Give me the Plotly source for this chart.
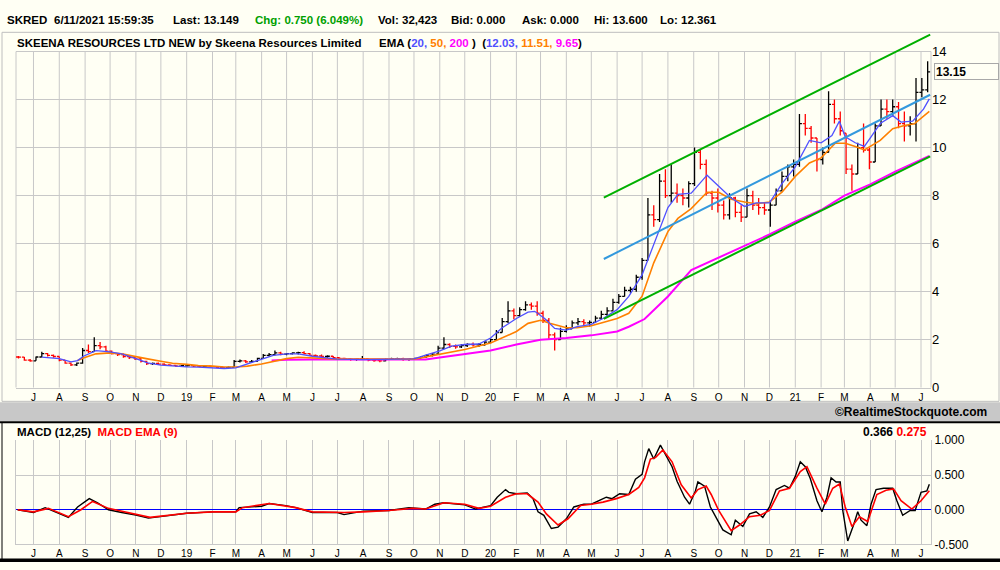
import pandas as pd
import plotly.graph_objects as go

# ---- weekly price bars (one bar per week, Jun 2018 - Jun 2021)
opens = [
    1.28, 1.27, 1.15,
    1.12, 1.28, 1.42, 1.35,
    1.30, 1.15, 1.02, 0.95, 1.02,
    1.55, 1.50, 1.75, 1.70,
    1.52, 1.42, 1.38, 1.30,
    1.25, 1.20, 1.10, 1.00, 1.01,
    0.98, 0.95, 0.93, 0.90,
    0.91, 0.92, 0.90, 0.88,
    0.90, 0.88, 0.85, 0.84,
    0.85, 1.10, 1.12, 1.08, 1.10,
    1.22, 1.35, 1.38, 1.45,
    1.40, 1.42, 1.45, 1.46, 1.42,
    1.35, 1.32, 1.30, 1.31,
    1.25, 1.22, 1.20, 1.18,
    1.19, 1.20, 1.15, 1.13, 1.12,
    1.18, 1.20, 1.21, 1.18,
    1.20, 1.22, 1.28, 1.35,
    1.40, 1.65, 1.80, 1.72, 1.70,
    1.75, 1.80, 1.78, 1.79,
    1.90, 2.00, 2.30, 2.75, 3.20,
    3.00, 3.25, 3.45, 3.40,
    3.10, 2.80, 2.20, 2.00,
    2.35, 2.45, 2.70, 2.75,
    2.70, 2.72, 2.90, 3.05, 3.20,
    3.55, 3.80, 4.05, 4.10,
    4.60, 5.30, 7.20, 7.00, 8.60,
    8.00, 8.10, 8.00, 7.90,
    8.50, 9.80, 9.30, 8.10,
    7.90, 7.60, 7.20, 7.90, 7.30,
    7.10, 8.00, 7.60, 7.50,
    7.40, 7.60, 8.20, 8.80,
    9.20, 9.30, 11.00, 10.80, 10.40,
    9.50, 9.80, 11.80, 11.20,
    10.60, 9.10, 8.90, 10.00,
    9.90, 9.40, 10.90, 11.60, 11.50,
    11.70, 11.00, 10.90, 11.00,
    12.30, 12.40,
]
highs = [
    1.32, 1.28, 1.20,
    1.30, 1.50, 1.45, 1.38,
    1.30, 1.15, 1.05, 1.05, 1.65,
    1.80, 2.10, 1.90, 1.75,
    1.55, 1.45, 1.42, 1.35,
    1.32, 1.25, 1.12, 1.05, 1.05,
    1.02, 0.98, 0.95, 0.95,
    0.95, 0.95, 0.93, 0.95,
    0.92, 0.90, 0.88, 0.88,
    1.15, 1.18, 1.15, 1.15, 1.25,
    1.40, 1.45, 1.55, 1.50,
    1.45, 1.48, 1.50, 1.52, 1.45,
    1.38, 1.38, 1.35, 1.32,
    1.28, 1.25, 1.24, 1.22,
    1.32, 1.22, 1.20, 1.20, 1.22,
    1.25, 1.25, 1.25, 1.22,
    1.25, 1.30, 1.38, 1.45,
    1.75, 2.10, 1.85, 1.80, 1.82,
    1.85, 1.88, 1.85, 1.95,
    2.05, 2.40, 2.90, 3.60, 3.30,
    3.35, 3.60, 3.55, 3.60,
    3.20, 2.90, 2.30, 2.50,
    2.60, 2.80, 2.90, 2.85,
    2.80, 3.00, 3.20, 3.35, 3.70,
    3.90, 4.20, 4.20, 4.70,
    5.40, 7.90, 7.60, 8.90, 9.10,
    9.30, 8.50, 8.30, 8.60,
    10.00, 9.90, 9.50, 8.20,
    8.30, 7.80, 8.10, 7.95, 7.60,
    8.30, 8.20, 7.90, 7.70,
    7.80, 8.30, 9.00, 9.30,
    9.50, 11.40, 11.40, 10.90, 10.40,
    10.00, 12.35, 12.00, 11.50,
    10.60, 9.30, 10.20, 11.00,
    10.00, 11.00, 12.00, 12.00, 12.00,
    11.90, 11.50, 11.30, 12.90,
    12.90, 13.60,
]
lows = [
    1.22, 1.12, 1.08,
    1.12, 1.28, 1.30, 1.25,
    1.10, 1.00, 0.90, 0.90, 1.00,
    1.45, 1.50, 1.60, 1.50,
    1.38, 1.32, 1.25, 1.20,
    1.15, 1.05, 0.95, 0.95, 0.95,
    0.92, 0.90, 0.86, 0.86,
    0.88, 0.86, 0.85, 0.85,
    0.84, 0.82, 0.80, 0.80,
    0.85, 1.05, 1.03, 1.05, 1.08,
    1.20, 1.30, 1.35, 1.35,
    1.35, 1.38, 1.38, 1.38, 1.32,
    1.28, 1.25, 1.25, 1.20,
    1.18, 1.15, 1.12, 1.12,
    1.15, 1.10, 1.08, 1.06, 1.10,
    1.15, 1.15, 1.12, 1.12,
    1.15, 1.20, 1.25, 1.30,
    1.40, 1.60, 1.65, 1.62, 1.65,
    1.70, 1.72, 1.70, 1.75,
    1.85, 2.00, 2.30, 2.70, 2.85,
    2.95, 3.20, 3.25, 3.00,
    2.70, 2.00, 1.55, 2.00,
    2.30, 2.45, 2.60, 2.60,
    2.55, 2.70, 2.85, 3.00, 3.20,
    3.50, 3.80, 3.95, 4.00,
    4.50, 5.30, 6.70, 6.90, 7.90,
    7.70, 7.70, 7.60, 7.50,
    8.40, 9.10, 8.00, 7.40,
    7.30, 7.00, 7.00, 7.10, 6.90,
    7.10, 7.40, 7.20, 7.20,
    6.70, 7.60, 8.20, 8.60,
    8.80, 9.20, 10.50, 10.20, 9.00,
    9.30, 9.80, 11.00, 10.50,
    8.90, 8.20, 8.90, 9.80,
    9.10, 9.40, 10.90, 11.20, 11.30,
    10.80, 10.25, 10.50, 10.25,
    12.10, 12.30,
]
closes = [
    1.27, 1.15, 1.12,
    1.28, 1.42, 1.35, 1.30,
    1.15, 1.02, 0.95, 1.02, 1.55,
    1.50, 1.75, 1.70, 1.52,
    1.42, 1.38, 1.30, 1.25,
    1.20, 1.10, 1.00, 1.01, 0.98,
    0.95, 0.93, 0.90, 0.92,
    0.92, 0.90, 0.88, 0.90,
    0.88, 0.85, 0.84, 0.85,
    1.10, 1.12, 1.08, 1.10, 1.22,
    1.35, 1.38, 1.45, 1.40,
    1.42, 1.45, 1.46, 1.42, 1.35,
    1.32, 1.30, 1.31, 1.25,
    1.22, 1.20, 1.18, 1.19,
    1.20, 1.15, 1.13, 1.12, 1.18,
    1.20, 1.21, 1.18, 1.20,
    1.22, 1.28, 1.35, 1.40,
    1.65, 1.80, 1.72, 1.70, 1.75,
    1.80, 1.78, 1.79, 1.90,
    2.00, 2.30, 2.75, 3.20, 3.00,
    3.25, 3.45, 3.40, 3.10,
    2.80, 2.20, 2.00, 2.35,
    2.45, 2.70, 2.75, 2.70,
    2.72, 2.90, 3.05, 3.20, 3.55,
    3.80, 4.05, 4.10, 4.60,
    5.30, 7.20, 7.00, 8.60, 8.00,
    8.10, 8.00, 7.90, 8.50,
    9.80, 9.30, 8.10, 7.90,
    7.60, 7.20, 7.90, 7.30, 7.10,
    8.00, 7.60, 7.50, 7.40,
    7.60, 8.20, 8.80, 9.20,
    9.30, 11.00, 10.80, 10.40, 9.50,
    9.80, 11.80, 11.20, 10.70,
    9.10, 8.90, 10.00, 9.90,
    9.40, 10.90, 11.60, 11.50, 11.70,
    11.00, 10.90, 11.00, 12.30,
    12.40, 13.149,
]
# mid-week date of each bar
week_dates = pd.date_range("2018-06-13", periods=len(closes), freq="7D")

# ---- moving averages (read at irregular points)
ema20_dates = ["2018-07-11", "2018-08-01", "2018-08-15", "2018-08-23", "2018-08-30", "2018-09-14",
               "2018-10-01", "2018-10-15", "2018-11-01", "2018-11-15", "2018-12-01", "2018-12-15",
               "2019-01-01", "2019-01-15", "2019-02-01", "2019-02-15", "2019-03-01", "2019-03-15",
               "2019-04-01", "2019-04-15", "2019-05-01", "2019-05-15", "2019-06-01", "2019-06-15",
               "2019-07-01", "2019-08-01", "2019-09-01", "2019-10-01", "2019-10-15", "2019-11-01",
               "2019-11-15", "2019-12-01", "2019-12-18", "2020-01-01", "2020-01-15", "2020-02-01",
               "2020-02-15", "2020-02-23", "2020-03-06", "2020-03-18", "2020-04-01", "2020-04-14",
               "2020-05-01", "2020-05-15", "2020-06-01", "2020-06-15", "2020-07-01", "2020-07-15",
               "2020-08-01", "2020-08-13", "2020-08-29", "2020-09-17", "2020-10-01", "2020-10-16",
               "2020-11-01", "2020-11-15", "2020-12-01", "2020-12-16", "2021-01-01", "2021-01-18",
               "2021-02-01", "2021-02-14", "2021-02-23", "2021-03-02", "2021-03-14", "2021-03-25",
               "2021-04-02", "2021-04-13", "2021-04-28", "2021-05-08", "2021-05-22", "2021-06-04",
               "2021-06-11"]
ema20 = [1.27, 1.21, 1.08, 1.13, 1.31, 1.54,
         1.49, 1.41, 1.21, 1.03, 0.94, 0.90,
         0.87, 0.86, 0.83, 0.80, 0.83, 0.99,
         1.17, 1.35, 1.41, 1.41, 1.31, 1.24,
         1.19, 1.17, 1.17, 1.20, 1.36, 1.53,
         1.73, 1.80, 1.82, 2.07, 2.50, 2.88,
         3.15, 3.18, 2.88, 2.47, 2.40, 2.54,
         2.64, 2.88, 3.25, 3.80, 4.70, 6.00,
         7.50, 8.05, 8.10, 8.85, 8.40, 7.90,
         7.55, 7.70, 7.70, 8.50, 9.20, 10.30,
         10.20, 10.50, 11.10, 10.45, 10.20, 10.05,
         10.45, 11.00, 11.33, 11.06, 11.10, 11.60,
         12.03]

ema50_dates = ["2018-08-23", "2018-08-30", "2018-09-14", "2018-10-01", "2018-10-15", "2018-11-01",
               "2018-11-15", "2018-12-01", "2018-12-15", "2019-01-01", "2019-01-15", "2019-02-01",
               "2019-02-15", "2019-03-01", "2019-03-15", "2019-04-01", "2019-04-15", "2019-05-01",
               "2019-05-15", "2019-06-01", "2019-06-15", "2019-07-01", "2019-10-01", "2019-10-15",
               "2019-11-01", "2019-12-01", "2020-01-01", "2020-01-15", "2020-02-01", "2020-02-15",
               "2020-03-01", "2020-03-12", "2020-04-01", "2020-04-14", "2020-05-01", "2020-05-15",
               "2020-06-01", "2020-06-15", "2020-07-01", "2020-07-15", "2020-08-01", "2020-08-13",
               "2020-08-29", "2020-09-17", "2020-10-01", "2020-10-16", "2020-11-01", "2020-11-15",
               "2020-12-01", "2020-12-16", "2021-01-01", "2021-01-18", "2021-02-01", "2021-02-18",
               "2021-03-02", "2021-03-14", "2021-03-25", "2021-04-13", "2021-04-28", "2021-05-12",
               "2021-05-24", "2021-06-11"]
ema50 = [1.13, 1.24, 1.41, 1.45, 1.41, 1.31,
         1.20, 1.10, 1.02, 0.97, 0.92, 0.90,
         0.86, 0.86, 0.90, 0.99, 1.10, 1.21,
         1.27, 1.24, 1.21, 1.19, 1.19, 1.28,
         1.39, 1.59, 1.86, 2.07, 2.34, 2.68,
         2.81, 2.68, 2.50, 2.50, 2.58, 2.72,
         2.88, 3.10, 3.81, 5.20, 6.50, 7.05,
         7.46, 8.14, 8.14, 7.85, 7.73, 7.66,
         7.73, 8.14, 8.80, 9.36, 9.57, 10.18,
         10.18, 10.04, 9.90, 10.30, 10.79, 10.92,
         10.99, 11.51]

ema200_dates = ["2019-04-13", "2019-05-01", "2019-06-01", "2019-07-01", "2019-08-01", "2019-09-01",
                "2019-10-01", "2019-10-15", "2019-11-01", "2019-12-01", "2020-01-01", "2020-02-01",
                "2020-03-01", "2020-04-01", "2020-05-01", "2020-06-01", "2020-06-15", "2020-07-04",
                "2020-08-01", "2020-08-29", "2020-10-01", "2020-11-01", "2020-12-01", "2021-01-01",
                "2021-02-01", "2021-03-01", "2021-04-01", "2021-05-01", "2021-06-11"]
ema200 = [1.13, 1.16, 1.17, 1.17, 1.16, 1.16,
          1.16, 1.18, 1.26, 1.39, 1.55, 1.80,
          2.00, 2.07, 2.18, 2.34, 2.54, 2.86,
          3.80, 4.90, 5.43, 5.90, 6.38, 6.92,
          7.40, 8.00, 8.47, 9.00, 9.65]

# ---- hand drawn trend channel
trend_dates = ["2020-05-16", "2021-06-12"]
upper_channel = [7.92, 14.70]
mid_trend = [5.36, 12.20]
lower_channel = [2.87, 9.63]

# ---- MACD (12,25) and its 9 EMA
macd_dates = ["2018-06-12", "2018-07-01", "2018-07-15", "2018-08-01", "2018-08-12", "2018-08-23",
              "2018-09-06", "2018-09-16", "2018-09-29", "2018-10-15", "2018-11-01", "2018-11-16",
              "2018-12-01", "2019-01-01", "2019-02-01", "2019-03-01", "2019-03-05", "2019-04-01",
              "2019-04-10", "2019-04-30", "2019-05-12", "2019-06-01", "2019-07-01", "2019-07-09",
              "2019-08-01", "2019-09-01", "2019-09-25", "2019-10-15", "2019-10-26", "2019-11-06",
              "2019-12-01", "2019-12-14", "2020-01-01", "2020-01-09", "2020-01-19", "2020-01-23",
              "2020-02-01", "2020-02-14", "2020-02-21", "2020-02-27", "2020-03-05", "2020-03-14",
              "2020-03-22", "2020-04-01", "2020-04-10", "2020-04-22", "2020-05-01", "2020-05-11",
              "2020-05-19", "2020-05-26", "2020-06-04", "2020-06-15", "2020-06-23", "2020-07-01",
              "2020-07-04", "2020-07-09", "2020-07-15", "2020-07-23", "2020-07-29", "2020-08-06",
              "2020-08-12", "2020-08-21", "2020-08-27", "2020-09-03", "2020-09-06", "2020-09-14",
              "2020-09-21", "2020-09-30", "2020-10-06", "2020-10-16", "2020-10-21", "2020-10-30",
              "2020-11-07", "2020-11-15", "2020-11-23", "2020-12-01", "2020-12-09", "2020-12-19",
              "2020-12-25", "2021-01-01", "2021-01-07", "2021-01-13", "2021-01-19", "2021-01-27",
              "2021-02-02", "2021-02-08", "2021-02-13", "2021-02-19", "2021-02-24", "2021-02-27",
              "2021-03-05", "2021-03-12", "2021-03-17", "2021-03-21", "2021-03-28", "2021-04-02",
              "2021-04-08", "2021-04-17", "2021-04-28", "2021-05-03", "2021-05-10", "2021-05-19",
              "2021-05-25", "2021-06-01", "2021-06-08", "2021-06-11"]
macd = [0.00, -0.04, 0.03, -0.05, -0.11, 0.04,
        0.16, 0.10, 0.00, -0.04, -0.075, -0.12,
        -0.10, -0.05, -0.03, -0.03, 0.03, 0.05,
        0.09, 0.06, 0.03, -0.04, -0.04, -0.07,
        -0.02, -0.01, 0.03, 0.01, 0.08, 0.10,
        0.07, 0.01, 0.06, 0.18, 0.29, 0.25,
        0.23, 0.24, 0.16, -0.03, -0.08, -0.27,
        -0.25, -0.13, 0.04, 0.08, 0.08, 0.13,
        0.18, 0.16, 0.23, 0.22, 0.44, 0.51,
        0.69, 0.88, 0.73, 0.93, 0.80, 0.62,
        0.41, 0.18, 0.08, 0.27, 0.40, 0.34,
        0.04, -0.15, -0.29, -0.36, -0.15, -0.24,
        -0.06, -0.03, -0.11, 0.04, 0.29, 0.35,
        0.31, 0.48, 0.69, 0.62, 0.45, 0.13,
        -0.03, 0.18, 0.46, 0.40, 0.40, -0.01,
        -0.45, -0.22, -0.03, -0.15, -0.23, 0.08,
        0.29, 0.31, 0.31, 0.13, -0.08, -0.01,
        -0.01, 0.25, 0.27, 0.366]

signal_dates = ["2018-06-12", "2018-07-01", "2018-07-19", "2018-08-12", "2018-08-27", "2018-09-10",
                "2018-09-29", "2018-11-01", "2018-11-18", "2019-01-01", "2019-02-01", "2019-03-01",
                "2019-03-09", "2019-04-10", "2019-05-12", "2019-06-01", "2019-07-09", "2019-08-01",
                "2019-09-01", "2019-09-29", "2019-10-15", "2019-11-06", "2019-12-01", "2019-12-18",
                "2020-01-01", "2020-01-19", "2020-02-01", "2020-02-14", "2020-02-27", "2020-03-08",
                "2020-03-22", "2020-04-03", "2020-04-18", "2020-05-01", "2020-05-15", "2020-05-31",
                "2020-06-15", "2020-06-27", "2020-07-04", "2020-07-11", "2020-07-17", "2020-07-26",
                "2020-08-06", "2020-08-17", "2020-08-29", "2020-09-06", "2020-09-16", "2020-09-22",
                "2020-10-01", "2020-10-16", "2020-10-26", "2020-11-07", "2020-11-20", "2020-12-01",
                "2020-12-13", "2020-12-25", "2021-01-07", "2021-01-15", "2021-01-27", "2021-02-06",
                "2021-02-15", "2021-02-23", "2021-03-02", "2021-03-10", "2021-03-19", "2021-03-29",
                "2021-04-09", "2021-04-20", "2021-04-29", "2021-05-08", "2021-05-21", "2021-06-01",
                "2021-06-11"]
signal = [0.00, -0.03, 0.02, -0.10, 0.00, 0.12,
          0.02, -0.07, -0.11, -0.05, -0.03, -0.03,
          0.03, 0.09, 0.03, -0.03, -0.04, -0.03,
          -0.01, 0.02, 0.01, 0.10, 0.08, 0.02,
          0.05, 0.18, 0.23, 0.23, 0.11, -0.06,
          -0.22, -0.13, 0.06, 0.08, 0.11, 0.16,
          0.22, 0.32, 0.46, 0.73, 0.75, 0.86,
          0.69, 0.36, 0.17, 0.29, 0.34, 0.22,
          -0.01, -0.30, -0.22, -0.10, -0.08, -0.01,
          0.27, 0.31, 0.55, 0.62, 0.31, 0.08,
          0.31, 0.37, 0.04, -0.24, -0.10, -0.17,
          0.22, 0.28, 0.30, 0.13, 0.01, 0.13,
          0.275]

# ---- axis labels
month_ticks = pd.date_range("2018-07-01", periods=36, freq="MS")
month_labels = ["J", "A", "S", "O", "N", "D",
                "19", "F", "M", "A", "M", "J", "J", "A", "S", "O", "N", "D",
                "20", "F", "M", "A", "M", "J", "J", "A", "S", "O", "N", "D",
                "21", "F", "M", "A", "M", "J"]
price_ticks = [0, 2, 4, 6, 8, 10, 12, 14]
macd_ticks = [-0.5, 0.0, 0.5, 1.0]
macd_ticktext = ["-0.500", "0.000", "0.500", "1.000"]

BG = "#FFFFF4"
GRID = "#C8C8C8"
FONT = "Liberation Sans, Arial, sans-serif"
H = 570.0


def py(px):
    # pixel row -> paper y
    return 1 - px / H


fig = go.Figure()

fig.add_trace(go.Ohlc(
    x=week_dates, open=opens, high=highs, low=lows, close=closes,
    increasing=dict(line=dict(color="black", width=1.3)),
    decreasing=dict(line=dict(color="#FF0000", width=1.3)),
    tickwidth=0.42, hoverinfo="skip", xaxis="x", yaxis="y",
))
fig.add_trace(go.Scatter(x=ema200_dates, y=ema200, mode="lines",
                         line=dict(color="#FF00FF", width=2), xaxis="x", yaxis="y"))
fig.add_trace(go.Scatter(x=ema50_dates, y=ema50, mode="lines",
                         line=dict(color="#FF8000", width=1.6), xaxis="x", yaxis="y"))
fig.add_trace(go.Scatter(x=ema20_dates, y=ema20, mode="lines",
                         line=dict(color="#5050FF", width=1.3), xaxis="x", yaxis="y"))
fig.add_trace(go.Scatter(x=trend_dates, y=upper_channel, mode="lines",
                         line=dict(color="#00B000", width=2), xaxis="x", yaxis="y"))
fig.add_trace(go.Scatter(x=trend_dates, y=lower_channel, mode="lines",
                         line=dict(color="#00B000", width=2), xaxis="x", yaxis="y"))
fig.add_trace(go.Scatter(x=trend_dates, y=mid_trend, mode="lines",
                         line=dict(color="#3399DD", width=2), xaxis="x", yaxis="y"))

fig.add_trace(go.Scatter(x=macd_dates, y=macd, mode="lines",
                         line=dict(color="black", width=1.4), xaxis="x2", yaxis="y2"))
fig.add_trace(go.Scatter(x=signal_dates, y=signal, mode="lines",
                         line=dict(color="#FF0000", width=1.6), xaxis="x2", yaxis="y2"))

xrange = ["2018-06-10", "2021-06-13"]
xcommon = dict(
    domain=[0.016, 0.931], range=xrange, type="date",
    tickmode="array", tickvals=month_ticks, ticktext=month_labels,
    gridcolor=GRID, gridwidth=1, ticks="",
    tickfont=dict(family=FONT, size=10, color="black"),
    showline=True, linecolor=GRID, linewidth=1, zeroline=False,
)

fig.update_layout(
    width=1000, height=570, autosize=False,
    margin=dict(l=0, r=0, t=0, b=0),
    paper_bgcolor=BG, plot_bgcolor=BG,
    showlegend=False,
    font=dict(family=FONT, color="black"),
    # month grid of the price panel is drawn as shapes so it stops at the 14 line
    xaxis=dict(**xcommon, showgrid=False, anchor="y", rangeslider=dict(visible=False)),
    yaxis=dict(
        domain=[py(391), py(26)], range=[0, 14.8], side="right",
        tickmode="array", tickvals=price_ticks,
        showgrid=True, gridcolor=GRID, gridwidth=1, zeroline=False, ticks="",
        tickfont=dict(family=FONT, size=13, color="black"), anchor="x",
    ),
    xaxis2=dict(**xcommon, showgrid=True, anchor="y2"),
    yaxis2=dict(
        domain=[py(552), py(445)], range=[-0.5, 1.0], side="right",
        tickmode="array", tickvals=macd_ticks, ticktext=macd_ticktext,
        showgrid=True, gridcolor=GRID, gridwidth=1,
        zeroline=True, zerolinecolor="#0000FF", zerolinewidth=1, ticks="",
        showline=True, linecolor=GRID, mirror=True,
        tickfont=dict(family=FONT, size=12, color="black"), anchor="x2",
    ),
)

shapes = []
for d in month_ticks:
    shapes.append(dict(type="line", xref="x", yref="y", x0=d, x1=d, y0=0, y1=14,
                       line=dict(color=GRID, width=1), layer="below"))
for edge in (0, 1):
    shapes.append(dict(type="line", xref="x domain", yref="y", x0=edge, x1=edge, y0=0, y1=14,
                       line=dict(color=GRID, width=1), layer="below"))
shapes += [
    # panel frames
    dict(type="rect", xref="paper", yref="paper", x0=0.002, x1=0.999, y0=py(405), y1=py(26),
         line=dict(color="#BEBEBE", width=1), fillcolor="rgba(0,0,0,0)", layer="below"),
    dict(type="rect", xref="paper", yref="paper", x0=0, x1=1, y0=py(425.5), y1=py(406),
         fillcolor="#C8C8C8", line=dict(width=0), layer="below"),
    dict(type="rect", xref="paper", yref="paper", x0=0, x1=1, y0=py(427.5), y1=py(425.5),
         fillcolor="black", line=dict(width=0), layer="below"),
    dict(type="line", xref="paper", yref="paper", x0=0.002, x1=0.002, y0=py(567), y1=py(427),
         line=dict(color="black", width=1)),
    dict(type="rect", xref="paper", yref="paper", x0=0, x1=1, y0=0, y1=py(566.5),
         fillcolor="black", line=dict(width=0)),
]
fig.update_layout(shapes=shapes)

header = [
    ("SKRED", 5, "black"),
    ("6/11/2021 15:59:35", 52, "black"),
    ("Last: 13.149", 171, "black"),
    ("Chg: 0.750 (6.049%)", 253, "#00A000"),
    ("Vol: 32,423", 376, "black"),
    ("Bid: 0.000", 449, "black"),
    ("Ask: 0.000", 519.5, "black"),
    ("Hi: 13.600", 592, "black"),
    ("Lo: 12.361", 658, "black"),
]
ann = []
for text, x, col in header:
    ann.append(dict(text=f"<b>{text}</b>", x=x / 1000, y=py(13), xref="paper", yref="paper",
                    xanchor="left", yanchor="middle", showarrow=False,
                    font=dict(family=FONT, size=11.5, color=col)))

ann.append(dict(text="<b>SKEENA RESOURCES LTD NEW by Skeena Resources Limited</b>",
                x=0.015, y=py(36.5), xref="paper", yref="paper", xanchor="left", yanchor="middle",
                showarrow=False, font=dict(family=FONT, size=11.5, color="black")))
ema_text = ("<b>EMA (<span style='color:#5050FF'>20, </span>"
            "<span style='color:#FF8000'>50, </span>"
            "<span style='color:#FF00FF'>200</span> )  "
            f"(<span style='color:#5050FF'>{ema20[-1]:.2f}, </span>"
            f"<span style='color:#FF8000'>{ema50[-1]:.2f}, </span>"
            f"<span style='color:#FF00FF'>{ema200[-1]:.2f}</span>)</b>")
ann.append(dict(text=ema_text, x=0.377, y=py(36.5), xref="paper", yref="paper",
                xanchor="left", yanchor="middle", showarrow=False,
                font=dict(family=FONT, size=11.5, color="black")))

# last price box
ann.append(dict(text=f"<b>{closes[-1]:.2f}</b>", x=0.934, y=closes[-1], xref="paper", yref="y",
                xanchor="left", yanchor="middle", showarrow=False, align="left",
                width=61, height=13, borderpad=1, bordercolor="#A8A8A8", borderwidth=1,
                bgcolor=BG, font=dict(family=FONT, size=12, color="black")))

ann.append(dict(text="<b>©RealtimeStockquote.com</b>", x=0.989, y=py(416), xref="paper",
                yref="paper", xanchor="right", yanchor="middle", showarrow=False,
                font=dict(family=FONT, size=12, color="black")))
ann.append(dict(text="<b>MACD (12,25)  <span style='color:#FF0000'>MACD EMA (9)</span></b>",
                x=0.015, y=py(436), xref="paper", yref="paper", xanchor="left",
                yanchor="middle", showarrow=False, font=dict(family=FONT, size=11.5, color="black")))
ann.append(dict(text=f"<b>{macd[-1]:.3f} <span style='color:#FF0000'>{signal[-1]:.3f}</span></b>",
                x=0.929, y=py(436), xref="paper", yref="paper", xanchor="right",
                yanchor="middle", showarrow=False, font=dict(family=FONT, size=12, color="black")))
fig.update_layout(annotations=ann)

# drop the page margin and scrollbars so the 1000x570 figure fills the window
page_fix = ("document.documentElement.style.overflow='hidden';"
            "document.body.style.margin='0';document.body.style.overflow='hidden';")
fig.write_html("out.html", config={"displayModeBar": False}, post_script=page_fix)
